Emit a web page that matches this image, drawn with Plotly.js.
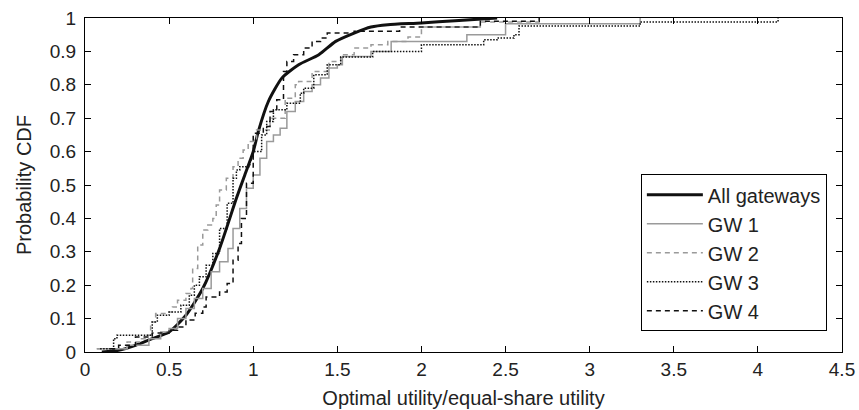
<!DOCTYPE html>
<html>
<head>
<meta charset="utf-8">
<script src="https://cdn.plot.ly/plotly-3.0.1.min.js"></script>
<style>html,body{margin:0;padding:0;background:#fff;}#chart{width:859px;height:410px;}</style>
</head>
<body>
<div id="chart"></div>
<script>
// All gateways (smooth CDF)
const allX = [0.1,0.2,0.3,0.4,0.5,0.6,0.7,0.8,0.9,0.95,1.0,1.03,1.09,1.17,1.27,1.39,1.49,1.6,1.7,1.8,2.0,2.2,2.45];
const allY = [0,0.005,0.02,0.04,0.06,0.11,0.19,0.31,0.46,0.53,0.6,0.66,0.75,0.82,0.86,0.89,0.93,0.955,0.973,0.98,0.985,0.992,1.0];
// GW 1 (grey solid)
const gw1X = [0.07,0.25,0.38,0.45,0.5,0.55,0.6,0.65,0.7,0.75,0.8,0.85,0.88,0.92,0.96,1.0,1.04,1.08,1.12,1.16,1.2,1.25,1.3,1.35,1.4,1.45,1.5,1.53,1.7,1.82,2.27,2.5,3.3];
const gw1Y = [0.01,0.02,0.04,0.06,0.07,0.1,0.13,0.16,0.19,0.24,0.27,0.31,0.37,0.43,0.49,0.53,0.58,0.63,0.65,0.67,0.72,0.75,0.78,0.8,0.82,0.85,0.86,0.885,0.9,0.93,0.95,0.983,1.0];
// GW 2 (grey dashed)
const gw2X = [0.07,0.25,0.33,0.37,0.39,0.42,0.5,0.52,0.55,0.6,0.63,0.64,0.67,0.7,0.73,0.76,0.78,0.8,0.84,0.88,0.91,0.94,0.97,1.02,1.1,1.19,1.25,1.27,1.35,1.45,1.52,1.6,1.7,1.8,1.92,2.0,2.35,2.7];
const gw2Y = [0.01,0.03,0.04,0.05,0.09,0.115,0.12,0.135,0.155,0.175,0.19,0.25,0.32,0.365,0.38,0.4,0.44,0.485,0.52,0.555,0.58,0.605,0.63,0.665,0.7,0.76,0.8,0.81,0.84,0.87,0.89,0.91,0.92,0.93,0.943,0.973,0.988,1.0];
// GW 3 (black dotted)
const gw3X = [0.09,0.17,0.19,0.37,0.4,0.43,0.5,0.57,0.62,0.65,0.68,0.72,0.76,0.8,0.845,0.88,0.9,0.92,0.98,1.0,1.05,1.08,1.12,1.2,1.28,1.3,1.36,1.44,1.52,1.71,2.0,2.37,2.45,2.55,2.58,3.3,4.12];
const gw3Y = [0.01,0.04,0.05,0.05,0.09,0.11,0.12,0.14,0.17,0.2,0.225,0.26,0.295,0.37,0.445,0.52,0.545,0.555,0.575,0.6,0.65,0.69,0.725,0.745,0.775,0.79,0.83,0.86,0.883,0.9,0.92,0.935,0.94,0.95,0.976,0.988,1.0];
// GW 4 (black dashed)
const gw4X = [0.15,0.2,0.3,0.4,0.5,0.55,0.6,0.655,0.7,0.72,0.8,0.845,0.88,0.91,0.93,0.96,1.0,1.06,1.1,1.14,1.18,1.2,1.24,1.3,1.35,1.4,1.44,1.6,1.87,2.35,2.7];
const gw4Y = [0.01,0.02,0.045,0.057,0.065,0.075,0.096,0.116,0.135,0.165,0.18,0.205,0.275,0.325,0.4,0.505,0.655,0.675,0.72,0.755,0.84,0.87,0.89,0.91,0.93,0.94,0.955,0.96,0.973,0.99,1.0];

const names = ['All gateways','GW 1','GW 2','GW 3','GW 4'];

const traces = [
  {x: allX, y: allY, name: names[0], mode:'lines', line:{color:'#111', width:3, shape:'spline', smoothing:0.6}},
  {x: gw1X, y: gw1Y, name: names[1], mode:'lines', line:{color:'#9a9a9a', width:1.5, shape:'hv'}},
  {x: gw2X, y: gw2Y, name: names[2], mode:'lines', line:{color:'#9a9a9a', width:1.5, shape:'hv', dash:'5px,4px'}},
  {x: gw3X, y: gw3Y, name: names[3], mode:'lines', line:{color:'#111', width:1.5, shape:'hv', dash:'1.5px,1.5px'}},
  {x: gw4X, y: gw4Y, name: names[4], mode:'lines', line:{color:'#111', width:1.5, shape:'hv', dash:'5px,4px'}}
];

const fam = 'Liberation Sans, Arial, sans-serif';

const layout = {
  width: 859, height: 410,
  margin: {l:85, r:17, t:18, b:58},
  paper_bgcolor:'#fff', plot_bgcolor:'#fff',
  font: {family:fam, size:19, color:'#222'},
  showlegend: true,
  legend: {x:0.98, xanchor:'right', y:0.062, yanchor:'bottom', bgcolor:'#fff', bordercolor:'#000', borderwidth:1, font:{family:fam, size:20, color:'#222'}, itemwidth:56, tracegroupgap:0},
  xaxis: {range:[0,4.5], dtick:0.5, tick0:0, ticks:'inside', ticklen:6, tickcolor:'#000', showline:true, linecolor:'#000', linewidth:1, mirror:'ticks', showgrid:false, zeroline:false, tickfont:{size:19},
    title:{text:'Optimal utility/equal-share utility', font:{size:20}, standoff:12}},
  yaxis: {range:[0,1], dtick:0.1, tick0:0, ticks:'inside', ticklen:6, tickcolor:'#000', showline:true, linecolor:'#000', linewidth:1, mirror:'ticks', showgrid:false, zeroline:false, tickfont:{size:19}, ticklabelstandoff:4,
    title:{text:'Probability CDF', font:{size:20}, standoff:12}}
};

Plotly.newPlot('chart', traces, layout, {displayModeBar:false, staticPlot:true});
</script>
</body>
</html>
